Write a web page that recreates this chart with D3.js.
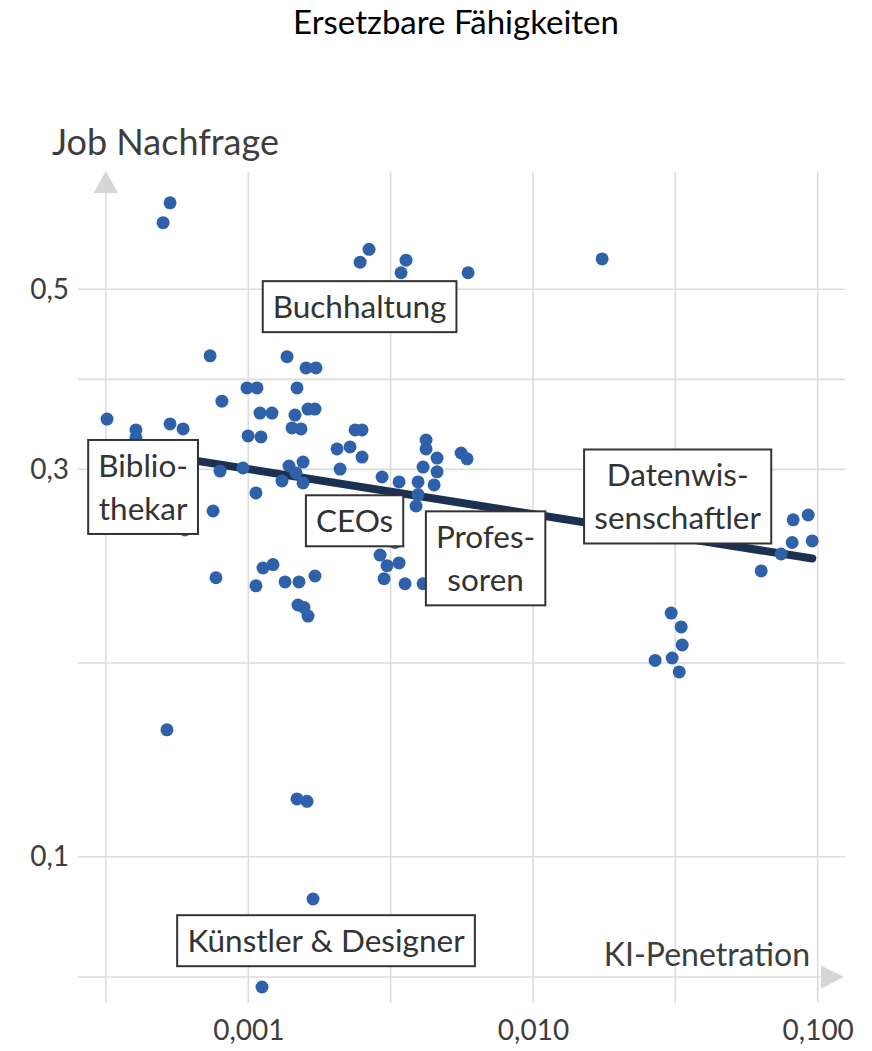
<!DOCTYPE html>
<html><head><meta charset="utf-8">
<script src="https://cdn.jsdelivr.net/npm/d3@7"></script>
<style>body{margin:0;background:#fff} svg text{font-family:Lato, "Open Sans", sans-serif}</style>
</head><body><svg id="c" width="872" height="1051"></svg>
<script>
// ---- data ----
const titleText = "Ersetzbare Fähigkeiten";
const xTitle = "KI-Penetration";
const yTitle = "Job Nachfrage";
const xTicks = [0.001, 0.01, 0.1];
const xTickLabels = ["0,001", "0,010", "0,100"];
const yTicks = [0.1, 0.3, 0.5];
const yTickLabels = ["0,1", "0,3", "0,5"];
const xMinor = [0.000316, 0.00316, 0.0316];
const yMinor = [0.3873, 0.1732];
const xAxisAt = 0.000316;   // vertical arrow line (x value)
const yAxisAt = 0.0711;     // horizontal arrow line (y value)

const pointX = [0.000531,0.000502,0.002655,0.002470,0.003582,0.003440,0.005916,0.01749,0.000734,0.001368,
  0.001595,0.001729,0.000989,0.001073,0.001483,0.000808,0.000319,0.001099,0.001211,0.001459,
  0.001621,0.001715,0.000403,0.000531,0.000590,0.000998,0.001108,0.001424,0.001532,0.000403,
  0.002050,0.002277,0.002372,0.002509,0.002509,0.002101,0.000796,0.000958,0.001390,0.001471,
  0.001557,0.001313,0.001557,0.001064,0.000752,0.000599,0.002950,0.003385,0.004211,0.004211,
  0.004603,0.004110,0.004603,0.003947,0.004494,0.003947,0.003884,0.005589,0.005868,0.003277,
  0.002903,0.003071,0.003385,0.002998,0.003553,0.004110,0.000770,0.001126,0.001221,0.001064,
  0.001346,0.001507,0.001715,0.001495,0.001569,0.001621,0.09261,0.08199,0.08134,0.09566,
  0.07438,0.06330,0.03057,0.03315,0.03342,0.02685,0.03082,0.03262,0.000518,0.001483,
  0.001608,0.001688,0.001117];
const pointY = [0.639,0.604,0.560,0.540,0.543,0.524,0.524,0.545,0.414,0.413,
  0.400,0.400,0.378,0.378,0.378,0.364,0.346,0.352,0.352,0.350,
  0.356,0.356,0.3355,0.3413,0.3365,0.3299,0.3289,0.3374,0.3365,0.3280,
  0.3179,0.3197,0.3355,0.3355,0.3107,0.3003,0.2986,0.3012,0.3029,0.2970,
  0.3063,0.2903,0.2887,0.2806,0.2666,0.2527,0.2936,0.2895,0.3261,0.3179,
  0.3098,0.3020,0.2979,0.2895,0.2871,0.2793,0.2704,0.3143,0.3091,0.2438,
  0.2353,0.2283,0.2301,0.2200,0.2169,0.2169,0.2206,0.2268,0.2290,0.2156,
  0.2180,0.2180,0.2217,0.2042,0.2028,0.1979,0.2636,0.2600,0.2438,0.2449,
  0.2360,0.2249,0.1996,0.1919,0.1823,0.1745,0.1757,0.1689,0.1433,0.1178,
  0.1170,0.0887,0.0691];

const trendX = [0.000319, 0.0957];
const trendY = [0.320, 0.233];

const labelLines = [["Buchhaltung"], ["Biblio-", "thekar"], ["CEOs"], ["Profes-", "soren"], ["Datenwis-", "senschaftler"], ["Künstler & Designer"]];
const labelX = [0.00246, 0.000427, 0.002362, 0.006816, 0.03222, 0.001875];
const labelY = [0.476, 0.2854, 0.2593, 0.2331, 0.2778, 0.0788];

// ---- layout ----
const panel = {left: 78, right: 845, top: 172, bottom: 1003};
const svg = d3.select("#c");
const x = d3.scaleLog().domain([0.001, 0.1]).range([248.3, 817.7]);
const y = d3.scaleLog().domain([0.1, 0.5]).range([856.7, 289.3]);

const gridColor = "#dcdcdc";
const textColor = "#3d3d3d";

// title
svg.append("text").attr("x", 456).attr("y", 34).attr("text-anchor", "middle")
  .style("font-size", "33px").style("fill", "#000").text(titleText);

// grid
const g = svg.append("g");
g.selectAll("line.h").data(yTicks.concat(yMinor)).join("line")
  .attr("x1", panel.left).attr("x2", panel.right)
  .attr("y1", d => y(d)).attr("y2", d => y(d))
  .attr("stroke", gridColor).attr("stroke-width", 1.6);
g.selectAll("line.v").data(xTicks.concat(xMinor)).join("line")
  .attr("y1", panel.top).attr("y2", panel.bottom)
  .attr("x1", d => x(d)).attr("x2", d => x(d))
  .attr("stroke", gridColor).attr("stroke-width", 1.6);

// arrow axes
const ay = y(yAxisAt), ax = x(xAxisAt);
g.append("line").attr("x1", panel.left).attr("x2", 822).attr("y1", ay).attr("y2", ay)
  .attr("stroke", gridColor).attr("stroke-width", 1.6);
g.append("path").attr("d", `M821,${ay-11.5}L844,${ay}L821,${ay+11.5}Z`).attr("fill", "#d6d6d6");
g.append("path").attr("d", `M${ax-12},193L${ax},171L${ax+12},193Z`).attr("fill", "#d6d6d6");

// axes tick labels
const xAxis = d3.axisBottom(x).tickValues(xTicks).tickFormat((d, i) => xTickLabels[i]).tickSize(0).tickPadding(17);
const xa = svg.append("g").attr("transform", `translate(0,${panel.bottom})`).call(xAxis);
xa.select(".domain").remove();
xa.selectAll("text").style("font-size", "28px").style("fill", textColor).style("font-family", "Lato");

const yAxis = d3.axisLeft(y).tickValues(yTicks).tickFormat((d, i) => yTickLabels[i]).tickSize(0).tickPadding(9);
const ya = svg.append("g").attr("transform", `translate(${panel.left},0)`).call(yAxis);
ya.select(".domain").remove();
ya.selectAll("text").style("font-size", "28px").style("fill", textColor).style("font-family", "Lato");

// axis titles
svg.append("text").attr("x", 52).attr("y", 155).style("font-size", "36px").style("fill", textColor).text(yTitle);
svg.append("text").attr("x", 810).attr("y", 966).attr("text-anchor", "end").style("font-size", "32px").style("fill", textColor).text(xTitle);

// trend line
const line = d3.line().x(d => x(d[0])).y(d => y(d[1]));
svg.append("path").datum(trendX.map((v, i) => [v, trendY[i]])).attr("d", line)
  .attr("fill", "none").attr("stroke", "#1c3152").attr("stroke-width", 8).attr("stroke-linecap", "round");

// points
svg.append("g").selectAll("circle").data(pointX.map((v, i) => [v, pointY[i]])).join("circle")
  .attr("cx", d => x(d[0])).attr("cy", d => y(d[1])).attr("r", 6.5).attr("fill", "#2f61ab");

// labels
const lineH = 43, padX = 10, padY = 4, fs = 31.5;
labelLines.forEach((lines, i) => {
  const cx = x(labelX[i]), cy = y(labelY[i]);
  const lg = svg.append("g");
  const rect = lg.append("rect");
  const t = lg.append("text").attr("text-anchor", "middle").style("font-size", fs + "px").style("fill", "#333");
  const h = lines.length * lineH + 2 * padY;
  lines.forEach((s, j) => {
    t.append("tspan").attr("x", cx).attr("y", cy - h / 2 + padY + j * lineH + lineH / 2 + fs * 0.36).text(s);
  });
  const w = t.node().getBBox().width + 2 * padX;
  rect.attr("x", cx - w / 2).attr("y", cy - h / 2).attr("width", w).attr("height", h)
    .attr("fill", "#fff").attr("stroke", "#333").attr("stroke-width", 2);
});
</script></body></html>
